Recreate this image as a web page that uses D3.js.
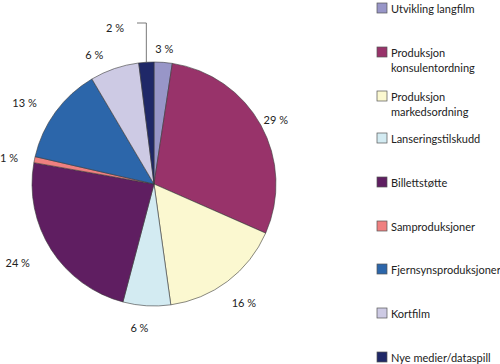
<!DOCTYPE html>
<html><head><meta charset="utf-8">
<script src="https://cdn.jsdelivr.net/npm/d3@7"></script>
<style>body{margin:0;background:#fff}svg{display:block}text{font-family:Lato,"Open Sans",sans-serif;fill:#222}</style>
</head><body>
<script>
const categories = ["Utvikling langfilm","Produksjon konsulentordning","Produksjon markedsordning","Lanseringstilskudd","Billettstøtte","Samproduksjoner","Fjernsynsproduksjoner","Kortfilm","Nye medier/dataspill"];
const legendLines = [["Utvikling langfilm"],["Produksjon","konsulentordning"],["Produksjon","markedsordning"],["Lanseringstilskudd"],["Billettstøtte"],["Samproduksjoner"],["Fjernsynsproduksjoner"],["Kortfilm"],["Nye medier/dataspill"]];
const values = [2.4, 29.2, 16.2, 6.3, 23.7, 0.8, 12.9, 6.5, 2.0];
const labels = ["3 %","29 %","16 %","6 %","24 %","1 %","13 %","6 %","2 %"];
const colors = ["#9896c8","#98336a","#fbf8d0","#d3ebf2","#5f1e61","#ef8080","#2c66aa","#cdcae4","#1f2868"];

const W=500,H=364, cx=154, cy=184, R=122;
const svg=d3.select("body").append("svg").attr("width",W).attr("height",H);
const g=svg.append("g").attr("transform",`translate(${cx},${cy})`);
const pie=d3.pie().sort(null).value(d=>d)(values);
const arc=d3.arc().innerRadius(0).outerRadius(R);
g.selectAll("path").data(pie).join("path").attr("d",arc)
  .attr("fill",(d,i)=>colors[i]).attr("stroke","#3a3a3a").attr("stroke-width",0.6);

// label layout (distance beyond the rim, plus small nudges)
const labelGap=[14,17,27,22,35,26,31,22,0];
const nudge=[[0,0],[0,2],[0,0],[-6,0],[-4,-6],[0,3],[-6,9],[-13,7],[0,0]];
g.selectAll("text.l").data(pie).join("text").attr("class","l")
  .attr("font-size",11).attr("text-anchor","middle").attr("dominant-baseline","central")
  .each(function(d,i){
    const r=R+labelGap[i];
    const a=(d.startAngle+d.endAngle)/2;
    let x=r*Math.sin(a)+nudge[i][0], y=-r*Math.cos(a)+nudge[i][1];
    if(i===8){x=-39;y=-157;}
    d3.select(this).attr("x",x).attr("y",y).text(labels[i]);
  });
// leader for the 2% label
const a8=(pie[8].startAngle+pie[8].endAngle)/2;
const px=R*Math.sin(a8), py=-R*Math.cos(a8);
g.append("path").attr("d",`M${-17},${-161}H${px}V${py}`).attr("fill","none").attr("stroke","#555").attr("stroke-width",0.8);

// legend
const lg=svg.append("g");
const ys=[3,47,91,133,177,221,264,308,352];
legendLines.forEach((lines,i)=>{
  lg.append("rect").attr("x",377).attr("y",ys[i]).attr("width",10).attr("height",10)
    .attr("fill",colors[i]).attr("stroke","#555").attr("stroke-width",0.7);
  lines.forEach((t,j)=>lg.append("text").attr("x",391).attr("y",ys[i]+5+j*15.5)
    .attr("dominant-baseline","central").attr("font-size",11).text(t));
});
</script>
</body></html>
